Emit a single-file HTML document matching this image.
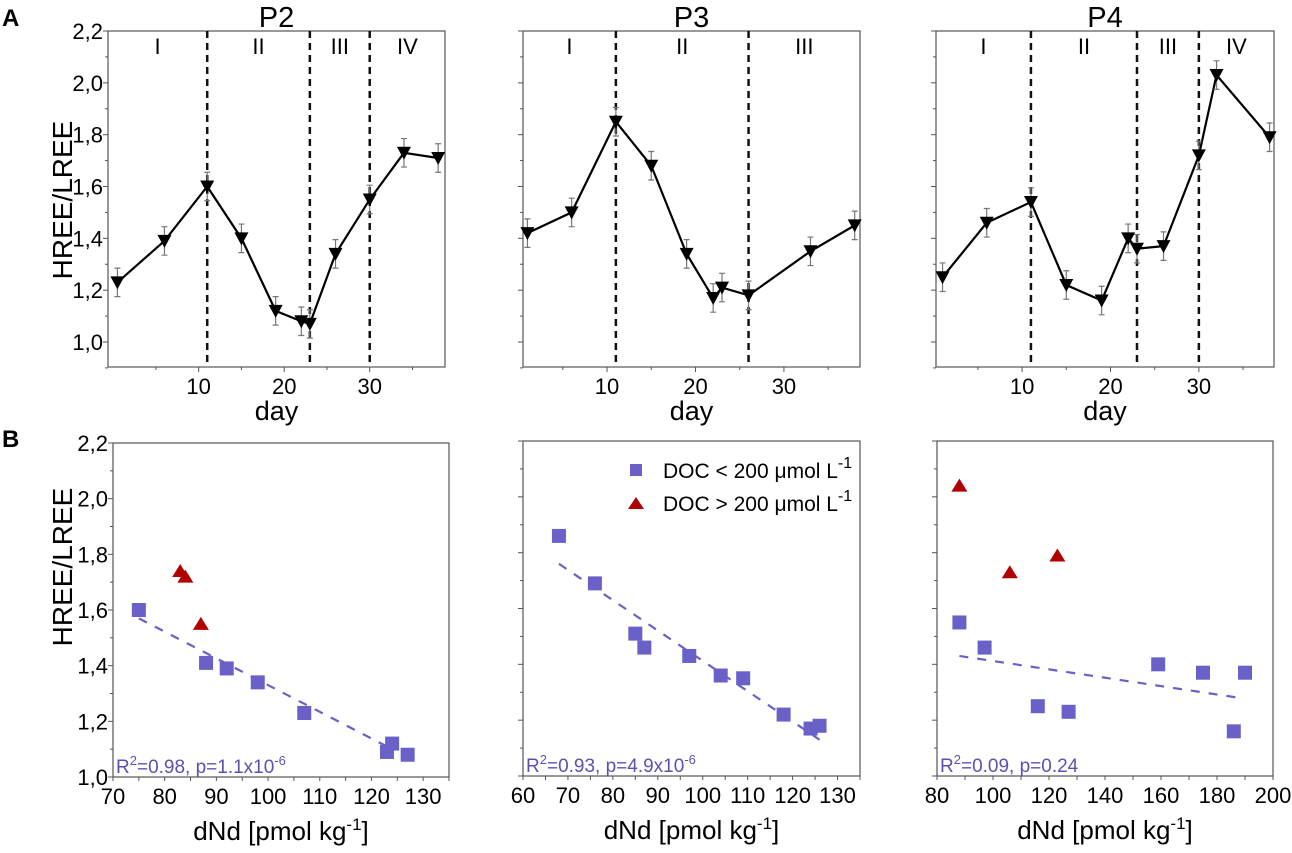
<!DOCTYPE html>
<html><head><meta charset="utf-8"><style>
body{margin:0;background:#fff;}
svg{display:block;font-family:"Liberation Sans",Arial,sans-serif;}
</style></head><body>
<svg id="chart" width="1292" height="853" viewBox="0 0 1292 853" xmlns="http://www.w3.org/2000/svg"></svg>
<script>
// ---- Panel A data ----
const p2Days=[0.5,6,11,15,19,22,23,26,30,34,38];
const p2Vals=[1.23,1.39,1.60,1.40,1.12,1.08,1.07,1.34,1.55,1.73,1.71];
const p2Phases=[11,23,30];
const p2PhaseLabels=["I","II","III","IV"];
const p3Days=[1,6,11,15,19,22,23,26,33,38];
const p3Vals=[1.42,1.50,1.85,1.68,1.34,1.17,1.21,1.18,1.35,1.45];
const p3Phases=[11,26];
const p3PhaseLabels=["I","II","III"];
const p4Days=[1,6,11,15,19,22,23,26,30,32,38];
const p4Vals=[1.25,1.46,1.54,1.22,1.16,1.40,1.36,1.37,1.72,2.03,1.79];
const p4Phases=[11,23,30];
const p4PhaseLabels=["I","II","III","IV"];
const errVal=0.055;
const yTicks=[1.0,1.2,1.4,1.6,1.8,2.0,2.2];
const yTickLabels=["1,0","1,2","1,4","1,6","1,8","2,0","2,2"];
const dayTicks=[10,20,30];
// ---- Panel B data ----
const b2LowX=[75,88,92,98,107,123,124,127];
const b2LowY=[1.60,1.41,1.39,1.34,1.23,1.09,1.12,1.08];
const b2HighX=[83,84,87];
const b2HighY=[1.74,1.72,1.55];
const b2Fit=[[75,1.57],[124,1.10]];
const b2Ticks=[70,80,90,100,110,120,130];
const b3LowX=[68,76,85,87,97,104,109,118,124,126];
const b3LowY=[1.86,1.69,1.51,1.46,1.43,1.36,1.35,1.22,1.17,1.18];
const b3HighX=[];
const b3HighY=[];
const b3Fit=[[68,1.76],[126,1.13]];
const b3Ticks=[60,70,80,90,100,110,120,130];
const b4LowX=[88,97,116,127,159,175,186,190];
const b4LowY=[1.55,1.46,1.25,1.23,1.40,1.37,1.16,1.37];
const b4HighX=[88,106,123];
const b4HighY=[2.04,1.73,1.79];
const b4Fit=[[88,1.43],[188,1.28]];
const b4Ticks=[80,100,120,140,160,180,200];

const svg=document.getElementById('chart');
const NS='http://www.w3.org/2000/svg';
function mk(tag,attrs,parent,txt){const e=document.createElementNS(NS,tag);for(const k in attrs)e.setAttribute(k,attrs[k]);if(txt!==undefined)e.textContent=txt;(parent||svg).appendChild(e);return e;}
function lin(d0,d1,r0,r1){return v=>r0+(v-d0)/(d1-d0)*(r1-r0);}

function topPanel(name,L,R,xmin,xmax,days,vals,phases,labels,showY,showYLabels){
  const T=31,B=367;
  const g=mk('g',{});
  
  
  const x=lin(xmin,xmax,L,R), y=lin(1.0,2.2,342,31);
  const t=mk('text',{x:(L+R)/2,y:27,'font-size':29,'text-anchor':'middle'},g,name.toUpperCase());
  
  
  const box=mk('rect',{x:L,y:T,width:R-L,height:B-T,fill:'none',stroke:'#555','stroke-width':1.2},g);
  
  
  for(let k=0;k<=13;k++){const v=0.9+k*0.1;const yy=y(v);const major=(k%2===1);mk('line',{x1:L,x2:L-(major?5:3),y1:yy,y2:yy,stroke:'#555'},g);}
  yTicks.forEach((v,i)=>{ if(showYLabels){const tl=mk('text',{x:L-5,y:y(v)+8,'font-size':22,'text-anchor':'end'},g,yTickLabels[i]);
    
    }});
  for(let d=5;d<xmax;d+=5){mk('line',{x1:x(d),x2:x(d),y1:B,y2:B+(d%10===0?5:3),stroke:'#555'},g);}
  dayTicks.forEach(d=>{const tl=mk('text',{x:x(d),y:B+27,'font-size':22,'text-anchor':'middle'},g,String(d));
    
    });
  const xt=mk('text',{x:(L+R)/2,y:420,'font-size':27,'text-anchor':'middle'},g,'day');
  
  
  phases.forEach(p=>{const ln=mk('line',{x1:x(p),x2:x(p),y1:T,y2:B,stroke:'#111','stroke-width':2.5,'stroke-dasharray':'7,5'},g);
    
    });
  const bounds=[xmin].concat(phases,[xmax]);
  labels.forEach((lab,i)=>{const tx=mk('text',{x:(x(bounds[i])+x(bounds[i+1]))/2,y:54,'font-size':22,'text-anchor':'middle'},g,lab);
    
    });
  const pts=days.map((d,i)=>x(d)+','+y(vals[i])).join(' ');
  const pl=mk('polyline',{points:pts,fill:'none',stroke:'#000','stroke-width':2.2},g);
  
  
  days.forEach((d,i)=>{
    const cx=x(d),cy=y(vals[i]),t1=y(vals[i]+errVal),b1=y(vals[i]-errVal);
    const eb=mk('path',{d:`M${cx},${t1}V${b1}M${cx-3},${t1}H${cx+3}M${cx-3},${b1}H${cx+3}`,stroke:'#777','stroke-width':1.2,fill:'none'},g);
    
    
    const m=mk('path',{d:`M${cx-7},${cy-6}L${cx+7},${cy-6}L${cx},${cy+7}Z`,fill:'#000'},g);
    
    
  });
}

function botPanel(name,L,R,T,B,xmin,xmax,ticks,minorStep,lowX,lowY,highX,highY,fit,stat,showYLabels){
  const g=mk('g',{});
  
  
  const x=lin(xmin,xmax,L,R), y=lin(1.0,2.2,B,T);
  const box=mk('rect',{x:L,y:T,width:R-L,height:B-T,fill:'none',stroke:'#555','stroke-width':1.2},g);
  
  
  for(let k=0;k<=12;k++){const v=1.0+k*0.1;const yy=y(v);mk('line',{x1:L,x2:L-(k%2===0?5:3),y1:yy,y2:yy,stroke:'#555'},g);}
  yTicks.forEach((v,i)=>{ if(showYLabels){const tl=mk('text',{x:L-5,y:y(v)+8,'font-size':22,'text-anchor':'end'},g,yTickLabels[i]);
    
    }});
  for(let d=xmin;d<=xmax+0.01;d+=minorStep){mk('line',{x1:x(d),x2:x(d),y1:B,y2:B+4,stroke:'#555'},g);}
  ticks.forEach(d=>{const tl=mk('text',{x:x(d),y:B+27,'font-size':22,'text-anchor':'middle'},g,String(d));
    
    });
  const xt=mk('text',{x:(L+R)/2,y:B+63,'font-size':26,'text-anchor':'middle'},g);
  
  
  mk('tspan',{},xt,'dNd [pmol kg');mk('tspan',{dy:-10,'font-size':17},xt,'-1');mk('tspan',{dy:10},xt,']');
  const fl=mk('line',{x1:x(fit[0][0]),y1:y(fit[0][1]),x2:x(fit[1][0]),y2:y(fit[1][1]),stroke:'#6a60c8','stroke-width':2.2,'stroke-dasharray':'9,9'},g);
  
  
  lowX.forEach((v,i)=>{const r=mk('rect',{x:x(v)-7,y:y(lowY[i])-7,width:14,height:14,fill:'#6a60c8'},g);
    
    });
  highX.forEach((v,i)=>{const cx=x(v),cy=y(highY[i]);const p=mk('path',{d:`M${cx},${cy-7}L${cx+8},${cy+6}L${cx-8},${cy+6}Z`,fill:'#b00000'},g);
    
    });
  const st=mk('text',{x:L+3,y:B-4,'font-size':19,fill:'#5b52b0'},g);
  
  
  mk('tspan',{},st,'R');mk('tspan',{dy:-8,'font-size':13},st,'2');mk('tspan',{dy:8},st,stat[0]);
  if(stat[1]){mk('tspan',{dy:-8,'font-size':13},st,stat[1]);}
}

topPanel('p2',108,445,-0.6,38.8,p2Days,p2Vals,p2Phases,p2PhaseLabels,true,true);
topPanel('p3',523,860,0.5,38.6,p3Days,p3Vals,p3Phases,p3PhaseLabels,true,false);
topPanel('p4',936,1274,0.26,38.5,p4Days,p4Vals,p4Phases,p4PhaseLabels,true,false);
botPanel('b2',113,449,443,777,70,135,b2Ticks,5,b2LowX,b2LowY,b2HighX,b2HighY,b2Fit,['=0.98, p=1.1x10','-6'],true);
botPanel('b3',523,860,441,776,60,135,b3Ticks,5,b3LowX,b3LowY,b3HighX,b3HighY,b3Fit,['=0.93, p=4.9x10','-6'],false);
botPanel('b4',937,1273,441,776,80,200,b4Ticks,10,b4LowX,b4LowY,b4HighX,b4HighY,b4Fit,['=0.09, p=0.24',''],false);

// y-axis titles
[[200,'y-axis-title-a'],[567,'y-axis-title-b']].forEach(a=>{
  const t=mk('text',{x:0,y:0,'font-size':28,'text-anchor':'middle',transform:`translate(72,${a[0]}) rotate(-90)`},svg,'HREE/LREE');
  
  
});
// panel letters
const la=mk('text',{x:2,y:26,'font-size':24,'font-weight':'bold'},svg,'A');


const lb=mk('text',{x:2,y:447,'font-size':24,'font-weight':'bold'},svg,'B');


// legend
const lg=mk('g',{});


const ls=mk('rect',{x:630,y:464,width:12,height:12,fill:'#6a60c8'},lg);


const lt=mk('path',{d:'M636,497L644,509L628,509Z',fill:'#b00000'},lg);


[[478,'DOC < 200 μmol L','legend-entry-doc-low'],[511,'DOC > 200 μmol L','legend-entry-doc-high']].forEach(e=>{
  const t=mk('text',{x:663,y:e[0],'font-size':21},lg);
  
  
  mk('tspan',{},t,e[1]);mk('tspan',{dy:-10,'font-size':16},t,'-1');
});
</script>
</body></html>
